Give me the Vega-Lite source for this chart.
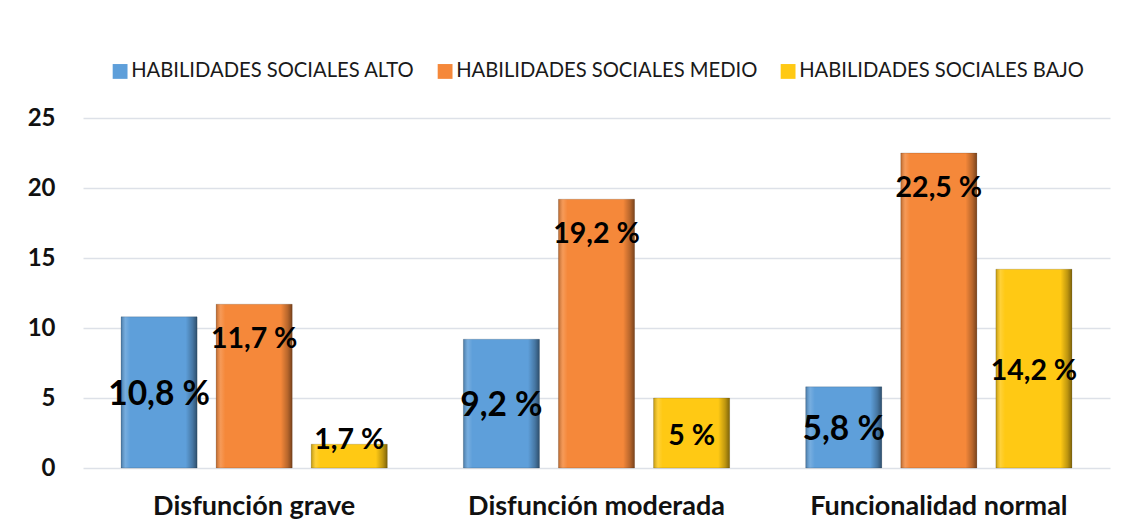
{
  "$schema": "https://vega.github.io/schema/vega-lite/v6.json",
  "width": 1027,
  "height": 350,
  "autosize": {"type": "none"},
  "padding": {"left": 83, "top": 118, "right": 11, "bottom": 56},
  "background": "white",
  "config": {"view": {"stroke": null}, "font": "Lato"},
  "data": {
    "values": [
      {"cat": "Disfunción grave", "serie": "HABILIDADES SOCIALES ALTO", "value": 10.8},
      {"cat": "Disfunción grave", "serie": "HABILIDADES SOCIALES MEDIO", "value": 11.7},
      {"cat": "Disfunción grave", "serie": "HABILIDADES SOCIALES BAJO", "value": 1.7},
      {"cat": "Disfunción moderada", "serie": "HABILIDADES SOCIALES ALTO", "value": 9.2},
      {"cat": "Disfunción moderada", "serie": "HABILIDADES SOCIALES MEDIO", "value": 19.2},
      {"cat": "Disfunción moderada", "serie": "HABILIDADES SOCIALES BAJO", "value": 5},
      {"cat": "Funcionalidad normal", "serie": "HABILIDADES SOCIALES ALTO", "value": 5.8},
      {"cat": "Funcionalidad normal", "serie": "HABILIDADES SOCIALES MEDIO", "value": 22.5},
      {"cat": "Funcionalidad normal", "serie": "HABILIDADES SOCIALES BAJO", "value": 14.2}
    ]
  },
  "transform": [
    {"calculate": "replace(format(datum.value, '.1~f'), '.', ',') + ' %'", "as": "label"},
    {"calculate": "datum.serie === 'HABILIDADES SOCIALES MEDIO' ? datum.value - 2.5 : max(datum.value / 2 - 0.2, 2)", "as": "labelY"}
  ],
  "encoding": {
    "x": {
      "field": "cat",
      "type": "nominal",
      "sort": ["Disfunción grave", "Disfunción moderada", "Funcionalidad normal"],
      "scale": {"paddingInner": 0, "paddingOuter": 0},
      "axis": {
        "title": null,
        "labelAngle": 0,
        "labelFont": "Lato",
        "labelFontWeight": "bold",
        "labelFontSize": 27,
        "labelColor": "#111111",
        "labelPadding": 25,
        "labelLimit": 400,
        "ticks": false,
        "domain": false
      }
    },
    "xOffset": {
      "field": "serie",
      "type": "nominal",
      "sort": ["HABILIDADES SOCIALES ALTO", "HABILIDADES SOCIALES MEDIO", "HABILIDADES SOCIALES BAJO"],
      "scale": {"paddingInner": 0.2, "paddingOuter": 0.4}
    }
  },
  "layer": [
    {
      "mark": {"type": "bar"},
      "encoding": {
        "y": {
          "field": "value",
          "type": "quantitative",
          "scale": {"domain": [0, 25], "nice": false},
          "axis": {
            "title": null,
            "values": [0, 5, 10, 15, 20, 25],
            "labelFont": "Lato",
            "labelFontWeight": "bold",
            "labelFontSize": 24,
            "labelColor": "#111111",
            "labelPadding": 28,
            "ticks": false,
            "domain": false,
            "gridColor": "#dde1e8",
            "gridWidth": 1.5
          }
        },
        "color": {
          "field": "serie",
          "type": "nominal",
          "sort": ["HABILIDADES SOCIALES ALTO", "HABILIDADES SOCIALES MEDIO", "HABILIDADES SOCIALES BAJO"],
          "scale": {
            "domain": ["HABILIDADES SOCIALES ALTO", "HABILIDADES SOCIALES MEDIO", "HABILIDADES SOCIALES BAJO"],
            "range": ["#5E9FDA", "#F5883A", "#FFC914"]
          },
          "legend": {
            "title": null,
            "orient": "none",
            "direction": "horizontal",
            "legendX": 27,
            "legendY": -57,
            "symbolType": "square",
            "symbolSize": 220,
            "symbolStrokeWidth": 0,
            "labelFont": "Lato",
            "labelFontSize": 20.2,
            "labelColor": "#1a1a1a",
            "labelLimit": 400,
            "labelOffset": 1,
            "columnPadding": 20
          }
        }
      }
    },
    {
      "mark": {
        "type": "bar",
        "stroke": "#000000",
        "strokeOpacity": 0.15,
        "strokeWidth": 1,
        "color": {
          "gradient": "linear",
          "x1": 0, "x2": 1, "y1": 0, "y2": 0,
          "stops": [
            {"offset": 0, "color": "rgba(0,0,0,0.25)"},
            {"offset": 0.06, "color": "rgba(255,255,255,0.15)"},
            {"offset": 0.12, "color": "rgba(255,255,255,0)"},
            {"offset": 0.85, "color": "rgba(0,0,0,0)"},
            {"offset": 0.94, "color": "rgba(0,0,0,0.25)"},
            {"offset": 1, "color": "rgba(0,0,0,0.5)"}
          ]
        }
      },
      "encoding": {
        "y": {"field": "value", "type": "quantitative"}
      }
    },
    {
      "mark": {"type": "text", "font": "Lato", "fontWeight": "bold", "color": "#000000", "align": "center", "baseline": "middle"},
      "encoding": {
        "y": {"field": "labelY", "type": "quantitative"},
        "text": {"field": "label", "type": "nominal"},
        "size": {
          "condition": [
            {"test": "datum.serie === 'HABILIDADES SOCIALES ALTO'", "value": 33.5}
          ],
          "value": 28.5
        }
      }
    }
  ]
}
